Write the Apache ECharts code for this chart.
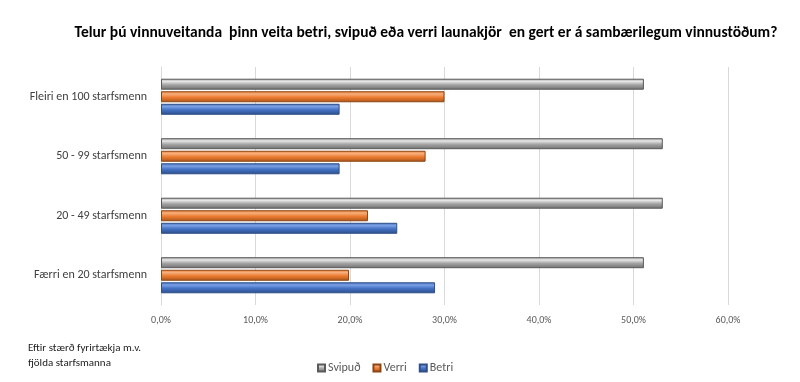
<!DOCTYPE html>
<html><head><meta charset="utf-8">
<script src="https://cdn.jsdelivr.net/npm/echarts@6/dist/echarts.min.js"></script>
<style>html,body{margin:0;padding:0;background:#fff}#c{width:800px;height:382px}</style>
</head><body><div id="c"></div>
<script>
const categories = ['Færri en 20 starfsmenn','20 - 49 starfsmenn','50 - 99 starfsmenn','Fleiri en 100 starfsmenn'];
const betri = [29.0, 25.0, 18.9, 18.9];
const verri = [19.9, 21.9, 28.0, 30.0];
const svipud = [51.1, 53.1, 53.1, 51.1];
const legendNames = ['Svipuð','Verri','Betri'];
const xTicks = [0,10,20,30,40,50,60];

function bevel(light, base, dark){
  return {type:'linear',x:0,y:0,x2:0,y2:1,colorStops:[
    {offset:0,color:base},{offset:0.25,color:light},{offset:0.55,color:base},{offset:1,color:dark}]};
}
const chart = echarts.init(document.getElementById('c'));
const font = 'Carlito, Lato, "Liberation Sans", Arial, sans-serif';
chart.setOption({
  animation:false,
  title:{text:'Telur þú vinnuveitanda  þinn veita betri, svipuð eða verri launakjör  en gert er á sambærilegum vinnustöðum?',
    left:421, textAlign:'center', top:20,
    textStyle:{fontSize:15.5, fontWeight:'bold', color:'#000', fontFamily:font}},
  graphic:[{type:'text', left:28, top:341, style:{text:'Eftir stærð fyrirtækja m.v.\nfjölda starfsmanna', fill:'#222', font:'11px '+font, lineHeight:15}}],
  legend:{data:legendNames, left:312, top:357, itemWidth:7, itemHeight:7, itemGap:12, icon:'rect',
    textStyle:{fontSize:12, color:'#595959', fontFamily:font, padding:[0,0,0,-2]}},
  grid:{left:161, right:72, top:67, bottom:77},
  xAxis:{type:'value', min:0, max:xTicks[xTicks.length-1], interval:10,
    axisLabel:{formatter:v=>v.toFixed(1).replace('.',',')+'%', fontSize:10, color:'#595959', margin:10, fontFamily:font},
    splitLine:{lineStyle:{color:'#d9d9d9'}}, axisLine:{show:false}, axisTick:{show:false}},
  yAxis:{type:'category', data:categories,
    axisLabel:{fontSize:12, color:'#404040', margin:14, fontFamily:font},
    axisLine:{lineStyle:{color:'#d9d9d9'}}, axisTick:{show:false}},
  series:[
    {name:'Svipuð', type:'bar', data:svipud, barWidth:11, barGap:'14%',
      itemStyle:{color:bevel('#e6e6e6','#a5a5a5','#6e6e6e'), borderColor:'#5a5a5a', borderWidth:1}},
    {name:'Verri', type:'bar', data:verri, barWidth:11, barGap:'14%',
      itemStyle:{color:bevel('#f6ae7c','#ed7d31','#a9541b'), borderColor:'#8c4513', borderWidth:1}},
    {name:'Betri', type:'bar', data:betri, barWidth:11, barGap:'14%',
      itemStyle:{color:bevel('#7ba0e4','#4472c4','#2c4d8a'), borderColor:'#2f4f86', borderWidth:1}}
  ]
});
</script></body></html>
